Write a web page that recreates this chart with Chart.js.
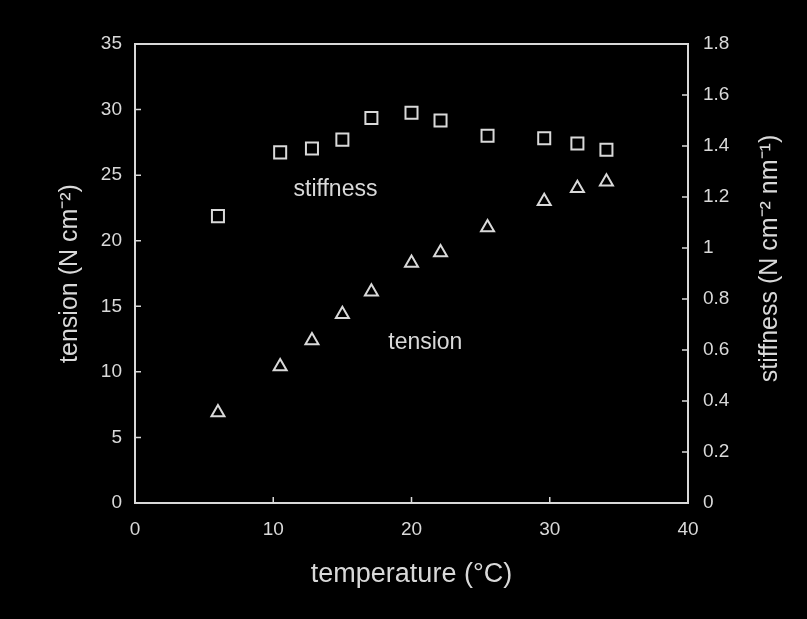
<!DOCTYPE html>
<html>
<head>
<meta charset="utf-8">
<script src="https://cdn.jsdelivr.net/npm/chart.js@4/dist/chart.umd.min.js"></script>
<style>
  html, body { margin: 0; padding: 0; background: #000; }
  #wrap { width: 807px; height: 619px; }
</style>
</head>
<body>
<div id="wrap"><canvas id="c" width="807" height="619"></canvas></div>
<script>
// ---- data ----
const temperature = [6.0, 10.5, 12.8, 15.0, 17.1, 20.0, 22.1, 25.5, 29.6, 32.0, 34.1];
const tension     = [6.9, 10.4, 12.4, 14.4, 16.1, 18.3, 19.1, 21.0, 23.0, 24.0, 24.5];
const stiffness   = [1.125, 1.375, 1.39, 1.425, 1.51, 1.53, 1.50, 1.44, 1.43, 1.41, 1.385];

const tempTicks      = [0, 10, 20, 30, 40];
const tensionTicks   = [0, 5, 10, 15, 20, 25, 30, 35];
const stiffnessTicks = [0, 0.2, 0.4, 0.6, 0.8, 1, 1.2, 1.4, 1.6, 1.8];
const stiffnessTickLabels = ['0', '0.2', '0.4', '0.6', '0.8', '1', '1.2', '1.4', '1.6', '1.8'];

const xTitle = 'temperature (°C)';
const yTitle = 'tension (N cm⁻²)';
const y1Title = 'stiffness (N cm⁻² nm⁻¹)';
const labelStiffness = { text: 'stiffness', x: 14.5, y: 23.9 };
const labelTension   = { text: 'tension',   x: 21.0, y: 12.2 };

const FG = '#d9d9d9';
const FONT = "'Liberation Sans', Arial, Helvetica, sans-serif";

const pts = (xs, ys) => xs.map((x, i) => ({ x: x, y: ys[i] }));
const setTicks = arr => scale => { scale.ticks = arr.map(v => ({ value: v })); };

const framePlugin = {
  id: 'frame',
  beforeDraw(chart) {
    const ctx = chart.ctx;
    ctx.save();
    ctx.fillStyle = '#000';
    ctx.fillRect(0, 0, chart.width, chart.height);
    ctx.restore();
  },
  afterDraw(chart) {
    const { ctx, chartArea: a, scales } = chart;
    ctx.save();
    ctx.strokeStyle = FG;
    ctx.lineWidth = 2;
    ctx.strokeRect(a.left, a.top, a.right - a.left, a.bottom - a.top);
    ctx.lineWidth = 1.5;
    const L = 6;
    ctx.beginPath();
    tempTicks.slice(1, -1).forEach(v => {
      const px = scales.x.getPixelForValue(v);
      ctx.moveTo(px, a.bottom); ctx.lineTo(px, a.bottom - L);
    });
    tensionTicks.slice(1, -1).forEach(v => {
      const py = scales.y.getPixelForValue(v);
      ctx.moveTo(a.left, py); ctx.lineTo(a.left + L, py);
    });
    stiffnessTicks.slice(1, -1).forEach(v => {
      const py = scales.y1.getPixelForValue(v);
      ctx.moveTo(a.right, py); ctx.lineTo(a.right - L, py);
    });
    ctx.stroke();

    // in-plot labels, placed through the data scales
    ctx.fillStyle = FG;
    ctx.font = '23px ' + FONT;
    ctx.textAlign = 'center';
    ctx.textBaseline = 'middle';
    [labelStiffness, labelTension].forEach(l => {
      ctx.fillText(l.text, scales.x.getPixelForValue(l.x), scales.y.getPixelForValue(l.y));
    });

    // right axis title, reading bottom to top
    ctx.font = '25px ' + FONT;
    ctx.translate(a.right + 82, (a.top + a.bottom) / 2 - 15);
    ctx.rotate(-Math.PI / 2);
    ctx.fillText(y1Title, 0, 0);
    ctx.restore();
  }
};

new Chart(document.getElementById('c'), {
  type: 'scatter',
  data: {
    datasets: [
      {
        label: 'stiffness',
        data: pts(temperature, stiffness),
        yAxisID: 'y1',
        pointStyle: 'rect',
        pointRadius: 8.5,
        pointBorderWidth: 2,
        pointBorderColor: FG,
        pointBackgroundColor: 'rgba(0,0,0,0)',
        showLine: false
      },
      {
        label: 'tension',
        data: pts(temperature, tension),
        yAxisID: 'y',
        pointStyle: 'triangle',
        pointRadius: 7.5,
        pointBorderWidth: 2,
        pointBorderColor: FG,
        pointBackgroundColor: 'rgba(0,0,0,0)',
        showLine: false
      }
    ]
  },
  options: {
    responsive: false,
    animation: false,
    devicePixelRatio: 1,
    layout: { padding: { top: 44, left: 0, right: 0, bottom: 0 } },
    plugins: { legend: { display: false }, tooltip: { enabled: false } },
    scales: {
      x: {
        type: 'linear', position: 'bottom', min: 0, max: 40,
        afterBuildTicks: setTicks(tempTicks),
        afterFit: s => { s.height = 116; },
        grid: { display: false, drawTicks: false },
        border: { display: false },
        ticks: { color: FG, padding: 15, font: { size: 19, family: FONT }, maxRotation: 0 },
        title: { display: true, text: xTitle, color: FG, font: { size: 27, family: FONT }, padding: { top: 0, bottom: 28 } }
      },
      y: {
        type: 'linear', position: 'left', min: 0, max: 35,
        afterBuildTicks: setTicks(tensionTicks),
        afterFit: s => { s.width = 135; },
        grid: { display: false, drawTicks: false },
        border: { display: false },
        ticks: { color: FG, padding: 13, font: { size: 19, family: FONT } },
        title: { display: true, text: yTitle, color: FG, font: { size: 25, family: FONT }, padding: { top: 55, bottom: 0 } }
      },
      y1: {
        type: 'linear', position: 'right', min: 0, max: 1.8,
        afterBuildTicks: setTicks(stiffnessTicks),
        afterFit: s => { s.width = 119; },
        grid: { display: false, drawTicks: false },
        border: { display: false },
        ticks: {
          color: FG, padding: 15, font: { size: 19, family: FONT },
          callback: (v) => { const i = stiffnessTicks.findIndex(t => Math.abs(t - v) < 1e-9); return i >= 0 ? stiffnessTickLabels[i] : ''; }
        }
      }
    }
  },
  plugins: [framePlugin]
});
</script>
</body>
</html>
